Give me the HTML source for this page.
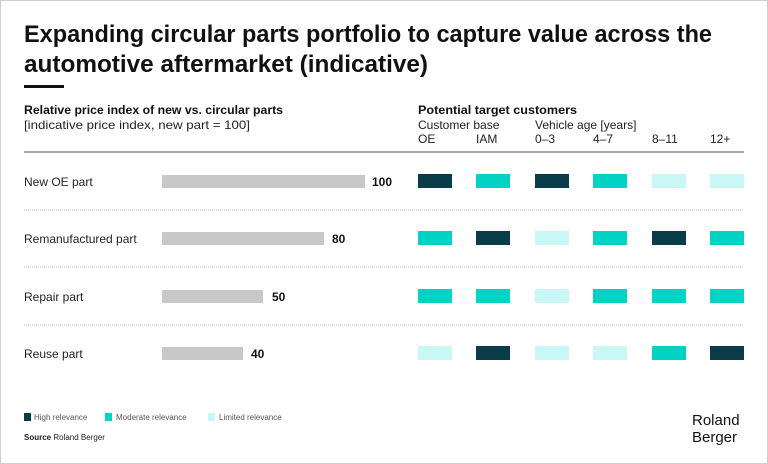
<!DOCTYPE html>
<html><head><meta charset="utf-8"><style>
html,body{margin:0;padding:0;background:#fff}
svg{display:block;font-family:"Liberation Sans",sans-serif}
</style></head><body>
<svg width="768" height="464" viewBox="0 0 768 464" xmlns="http://www.w3.org/2000/svg">
<rect x="0.5" y="0.5" width="767" height="463" fill="#fff" stroke="#cfcfcf"/>
<text x="24" y="42" font-size="24" font-weight="bold" fill="#111" textLength="688" lengthAdjust="spacingAndGlyphs">Expanding circular parts portfolio to capture value across the</text>
<text x="24" y="72" font-size="24" font-weight="bold" fill="#111" textLength="404" lengthAdjust="spacingAndGlyphs">automotive aftermarket (indicative)</text>
<rect x="24" y="85" width="40" height="3" fill="#111"/>
<text x="24" y="114" font-size="12" font-weight="bold" fill="#111" textLength="259" lengthAdjust="spacingAndGlyphs">Relative price index of new vs. circular parts</text>
<text x="24" y="129" font-size="12" fill="#222" textLength="226" lengthAdjust="spacingAndGlyphs">[indicative price index, new part = 100]</text>
<text x="418" y="114" font-size="12" font-weight="bold" fill="#111" textLength="159" lengthAdjust="spacingAndGlyphs">Potential target customers</text>
<g font-size="12" fill="#222">
<text x="418" y="129">Customer base</text>
<text x="535" y="129">Vehicle age [years]</text>
<text x="418" y="143">OE</text>
<text x="476" y="143">IAM</text>
<text x="535" y="143">0–3</text>
<text x="593" y="143">4–7</text>
<text x="652" y="143">8–11</text>
<text x="710" y="143">12+</text>
</g>
<line x1="24" y1="152" x2="744" y2="152" stroke="#555" stroke-width="1"/>
<g stroke="#bbb" stroke-width="1" stroke-dasharray="1,1">
<line x1="24" y1="210" x2="744" y2="210"/>
<line x1="24" y1="267" x2="744" y2="267"/>
<line x1="24" y1="325" x2="744" y2="325"/>
</g>
<g font-size="12" fill="#222">
<text x="24" y="186">New OE part</text>
<text x="24" y="243">Remanufactured part</text>
<text x="24" y="301">Repair part</text>
<text x="24" y="358">Reuse part</text>
</g>
<g fill="#c8c8c8">
<rect x="162" y="175" width="203" height="13"/>
<rect x="162" y="232" width="162" height="13"/>
<rect x="162" y="290" width="101" height="13"/>
<rect x="162" y="347" width="81" height="13"/>
</g>
<g font-size="12" font-weight="bold" fill="#111">
<text x="372" y="186">100</text>
<text x="332" y="243">80</text>
<text x="272" y="301">50</text>
<text x="251" y="358">40</text>
</g>
<g>
<!-- row 1 -->
<rect x="418" y="174" width="34" height="14" fill="#0b3c49"/>
<rect x="476" y="174" width="34" height="14" fill="#00d2c3"/>
<rect x="535" y="174" width="34" height="14" fill="#0b3c49"/>
<rect x="593" y="174" width="34" height="14" fill="#00d2c3"/>
<rect x="652" y="174" width="34" height="14" fill="#c9f7f5"/>
<rect x="710" y="174" width="34" height="14" fill="#c9f7f5"/>
<!-- row 2 -->
<rect x="418" y="231" width="34" height="14" fill="#00d2c3"/>
<rect x="476" y="231" width="34" height="14" fill="#0b3c49"/>
<rect x="535" y="231" width="34" height="14" fill="#c9f7f5"/>
<rect x="593" y="231" width="34" height="14" fill="#00d2c3"/>
<rect x="652" y="231" width="34" height="14" fill="#0b3c49"/>
<rect x="710" y="231" width="34" height="14" fill="#00d2c3"/>
<!-- row 3 -->
<rect x="418" y="289" width="34" height="14" fill="#00d2c3"/>
<rect x="476" y="289" width="34" height="14" fill="#00d2c3"/>
<rect x="535" y="289" width="34" height="14" fill="#c9f7f5"/>
<rect x="593" y="289" width="34" height="14" fill="#00d2c3"/>
<rect x="652" y="289" width="34" height="14" fill="#00d2c3"/>
<rect x="710" y="289" width="34" height="14" fill="#00d2c3"/>
<!-- row 4 -->
<rect x="418" y="346" width="34" height="14" fill="#c9f7f5"/>
<rect x="476" y="346" width="34" height="14" fill="#0b3c49"/>
<rect x="535" y="346" width="34" height="14" fill="#c9f7f5"/>
<rect x="593" y="346" width="34" height="14" fill="#c9f7f5"/>
<rect x="652" y="346" width="34" height="14" fill="#00d2c3"/>
<rect x="710" y="346" width="34" height="14" fill="#0b3c49"/>
</g>
<g font-size="8" fill="#555">
<rect x="24" y="413" width="7" height="8" fill="#0b3c49"/>
<text x="34" y="420">High relevance</text>
<rect x="105" y="413" width="7" height="8" fill="#00d2c3"/>
<text x="116" y="420">Moderate relevance</text>
<rect x="208" y="413" width="7" height="8" fill="#c9f7f5"/>
<text x="219" y="420">Limited relevance</text>
<text x="24" y="440" fill="#222"><tspan font-weight="bold">Source</tspan> Roland Berger</text>
</g>
<g font-size="15" fill="#111">
<text x="692" y="425">Roland</text>
<text x="692" y="442">Berger</text>
</g>
</svg>
</body></html>
